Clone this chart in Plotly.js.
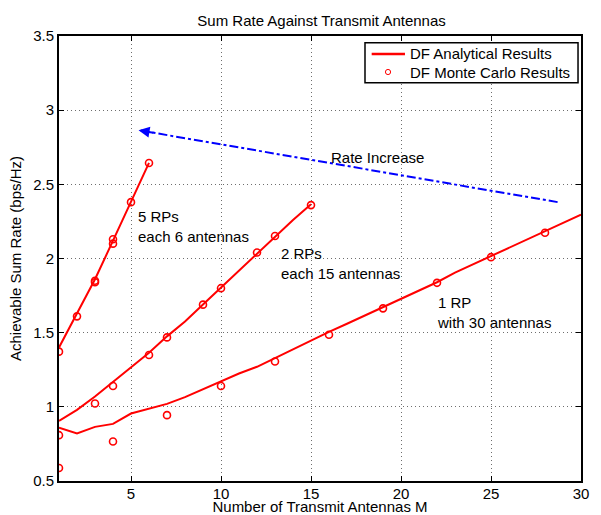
<!DOCTYPE html>
<html>
<head>
<meta charset="utf-8">
<script src="https://cdn.plot.ly/plotly-3.0.1.min.js"></script>
<style>html,body{margin:0;padding:0;background:#fff}#chart{width:601px;height:515px}</style>
</head>
<body>
<div id="chart"></div>
<script>
// 5 RPs, each 6 antennas
const xA = [1, 2, 3, 4, 5, 6];
const lineA = [1.40, 1.63, 1.86, 2.12, 2.385, 2.645];
const mcXA = [1, 2, 3, 3, 4, 4, 5, 6];
const mcYA = [1.372, 1.61, 1.84, 1.85, 2.10, 2.13, 2.38, 2.644];

// 2 RPs, each 15 antennas
const xB = [1, 2, 3, 4, 5, 6, 7, 8, 9, 10, 11, 12, 13, 14, 15];
const lineB = [0.905, 0.98, 1.07, 1.17, 1.265, 1.365, 1.475, 1.575, 1.69, 1.805, 1.92, 2.035, 2.15, 2.26, 2.365];
const mcXB = [1, 3, 4, 6, 7, 9, 10, 12, 13, 15];
const mcYB = [0.809, 1.022, 1.14, 1.349, 1.468, 1.689, 1.80, 2.04, 2.152, 2.36];

// 1 RP with 30 antennas
const xC = [1, 2, 3, 4, 5, 6, 7, 8, 9, 10, 11, 12, 13, 14, 15, 16, 17, 18, 19, 20, 21, 22, 23, 24, 25, 26, 27, 28, 29, 30];
const lineC = [0.86, 0.82, 0.865, 0.885, 0.955, 0.985, 1.02, 1.065, 1.12, 1.175, 1.225, 1.27, 1.33, 1.385, 1.445, 1.505, 1.56, 1.615, 1.67, 1.73, 1.785, 1.84, 1.905, 1.96, 2.015, 2.07, 2.13, 2.185, 2.24, 2.295];
const mcXC = [1, 4, 7, 10, 13, 16, 19, 22, 25, 28];
const mcYC = [0.588, 0.766, 0.944, 1.14, 1.306, 1.486, 1.664, 1.836, 2.009, 2.174];

// "Rate Increase" arrow (tail -> head)
const arrowX = [28.7, 5.42];
const arrowY = [2.38, 2.865];

const xTicks = [5, 10, 15, 20, 25, 30];
const yTicks = [0.5, 1, 1.5, 2, 2.5, 3, 3.5];

const legendLabels = ['DF Analytical Results', 'DF Monte Carlo Results'];

const RED = '#ff0000';
const FONT = 'Liberation Sans, Arial, Helvetica, sans-serif';

function lineTrace(x, y) {
  return {x: x, y: y, type: 'scatter', mode: 'lines', name: legendLabels[0],
    line: {color: RED, width: 2}, showlegend: false, hoverinfo: 'skip'};
}
function mcTrace(x, y) {
  return {x: x, y: y, type: 'scatter', mode: 'markers', name: legendLabels[1],
    marker: {symbol: 'circle-open', color: RED, size: 7, line: {color: RED, width: 1.6}},
    showlegend: false, hoverinfo: 'skip'};
}

const traces = [
  lineTrace(xA, lineA),
  lineTrace(xB, lineB),
  lineTrace(xC, lineC),
  mcTrace(mcXA, mcYA),
  mcTrace(mcXB, mcYB),
  mcTrace(mcXC, mcYC),
  {x: arrowX, y: arrowY, type: 'scatter', mode: 'lines', showlegend: false, hoverinfo: 'skip',
   line: {color: '#0000ff', width: 2, dash: 'dashdot'}}
];

const headBackX = arrowX[1] + 0.9;
const headBackY = arrowY[1] + (arrowY[0] - arrowY[1]) * (0.9 / (arrowX[0] - arrowX[1]));

const axisCommon = {
  showline: true, linecolor: '#000', linewidth: 2, mirror: 'ticks',
  ticks: 'inside', ticklen: 5, tickwidth: 1, tickcolor: '#000',
  showgrid: true, gridcolor: '#6e6e6e', griddash: '1px,3px', gridwidth: 1,
  zeroline: false, tickfont: {family: FONT, size: 15, color: '#000'}
};

// legend box (paper coordinates of the plotting area)
const LG = {x0: 0.5862, x1: 0.9943, y0: 0.8951, y1: 0.9849, row1: 0.9596, row2: 0.9191,
            symX0: 0.599, symX1: 0.6628, symC: 0.6303, textX: 0.6686};

const layout = {
  width: 601, height: 515,
  margin: {l: 59, r: 20, t: 36, b: 34},
  paper_bgcolor: '#fff', plot_bgcolor: '#fff',
  font: {family: FONT, size: 15, color: '#000'},
  title: {text: 'Sum Rate Against Transmit Antennas', x: 0.535, xanchor: 'center', y: 0.959, yanchor: 'middle',
          font: {family: FONT, size: 15, color: '#000'}},
  xaxis: Object.assign({}, axisCommon, {
    range: [1, 30], tickvals: xTicks, ticktext: xTicks.map(String), ticklabelstandoff: -2,
    title: {text: 'Number of Transmit Antennas M', standoff: 0, font: {family: FONT, size: 15}}
  }),
  yaxis: Object.assign({}, axisCommon, {
    range: [0.5, 3.5], tickvals: yTicks, ticktext: yTicks.map(String),
    title: {text: 'Achievable Sum Rate (bps/Hz)', standoff: 8, font: {family: FONT, size: 15}}
  }),
  showlegend: false,
  shapes: [
    {type: 'rect', xref: 'paper', yref: 'paper', x0: LG.x0, x1: LG.x1, y0: LG.y0, y1: LG.y1,
     fillcolor: '#fff', line: {color: '#000', width: 1.5}, layer: 'above'},
    {type: 'line', xref: 'paper', yref: 'paper', x0: LG.symX0, x1: LG.symX1, y0: LG.row1, y1: LG.row1,
     line: {color: RED, width: 2.5}, layer: 'above'},
    {type: 'circle', xref: 'paper', yref: 'paper', xsizemode: 'pixel', ysizemode: 'pixel',
     xanchor: LG.symC, yanchor: LG.row2, x0: -2.6, x1: 2.6, y0: -2.6, y1: 2.6,
     line: {color: RED, width: 1}, layer: 'above'}
  ],
  annotations: [
    {x: arrowX[1], y: arrowY[1], ax: headBackX, ay: headBackY, xref: 'x', yref: 'y', axref: 'x', ayref: 'y',
     text: '', showarrow: true, arrowhead: 2, arrowsize: 1.1, arrowwidth: 2, arrowcolor: '#0000ff'},
    {x: 18.7, y: 2.684, xref: 'x', yref: 'y', text: 'Rate Increase', showarrow: false,
     xanchor: 'center', yanchor: 'middle', font: {family: FONT, size: 15, color: '#000'}},
    {x: 5.3, y: 2.213, xref: 'x', yref: 'y', text: '5 RPs<br>each 6 antennas', showarrow: false,
     xanchor: 'left', yanchor: 'middle', align: 'left', font: {family: FONT, size: 15, color: '#000'}},
    {x: 13.2, y: 1.964, xref: 'x', yref: 'y', text: '2 RPs<br>each 15 antennas', showarrow: false,
     xanchor: 'left', yanchor: 'middle', align: 'left', font: {family: FONT, size: 15, color: '#000'}},
    {x: 21.9, y: 1.635, xref: 'x', yref: 'y', text: '1 RP<br>with 30 antennas', showarrow: false,
     xanchor: 'left', yanchor: 'middle', align: 'left', font: {family: FONT, size: 15, color: '#000'}},
    {x: LG.textX, y: LG.row1, xref: 'paper', yref: 'paper', text: legendLabels[0], showarrow: false,
     xanchor: 'left', yanchor: 'middle', font: {family: FONT, size: 15, color: '#000'}},
    {x: LG.textX, y: LG.row2, xref: 'paper', yref: 'paper', text: legendLabels[1], showarrow: false,
     xanchor: 'left', yanchor: 'middle', font: {family: FONT, size: 15, color: '#000'}}
  ]
};

Plotly.newPlot('chart', traces, layout, {displayModeBar: false, staticPlot: true});
</script>
</body>
</html>
